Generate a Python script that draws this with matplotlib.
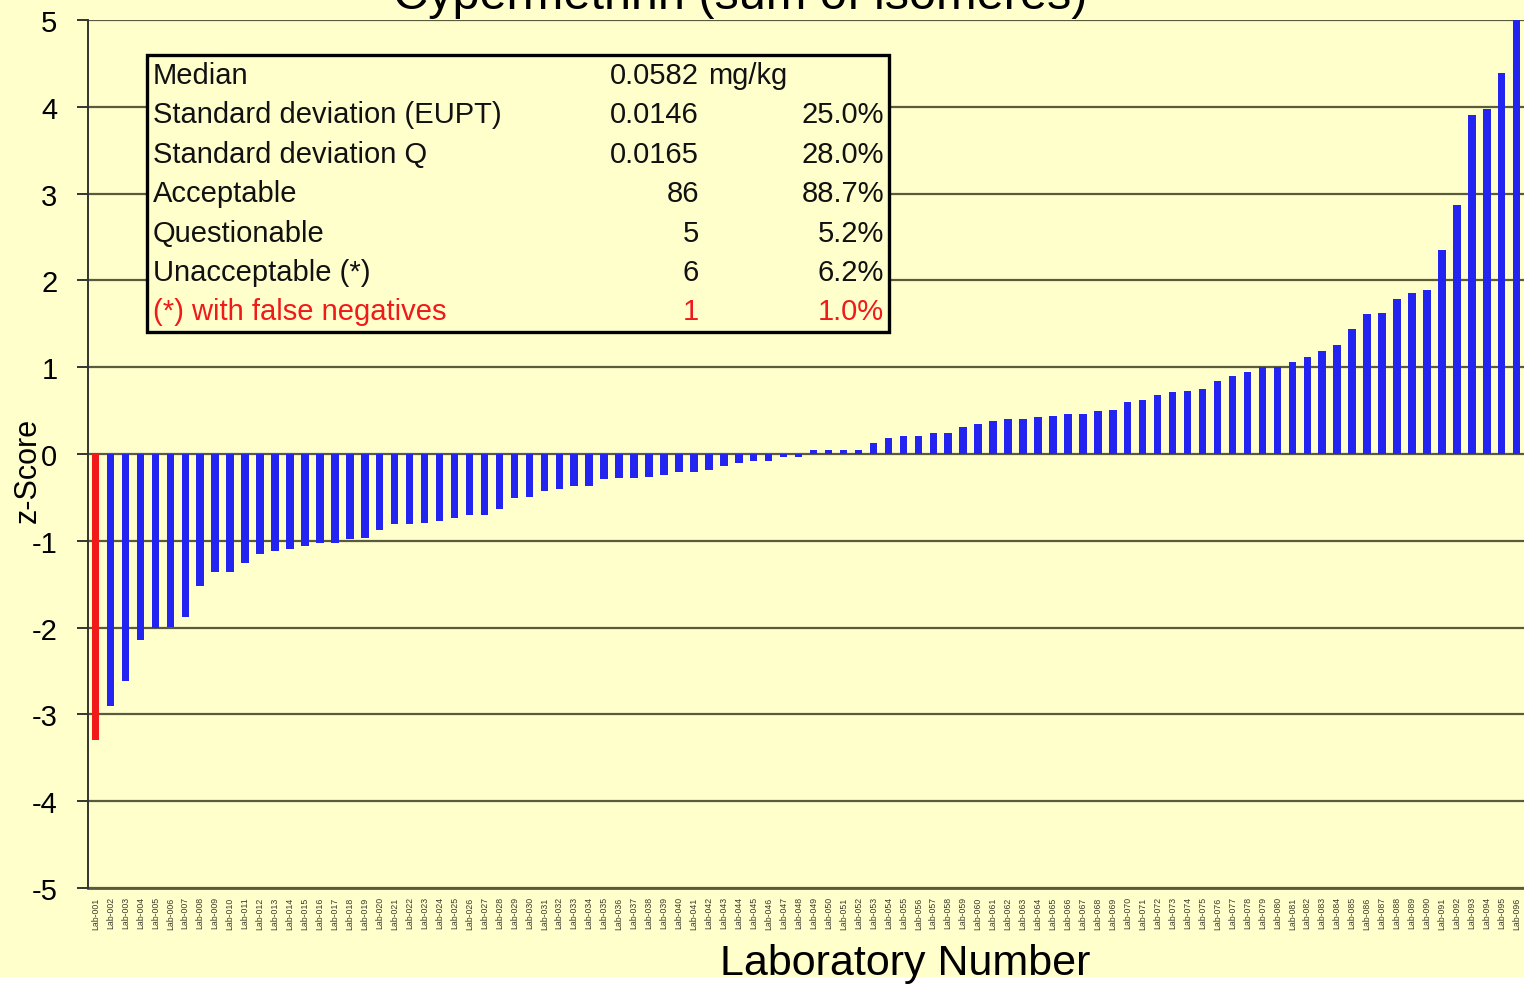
import matplotlib
matplotlib.use("Agg")
import matplotlib.pyplot as plt
import numpy as np
from matplotlib.patches import Rectangle

plt.rcParams['font.family'] = ['Liberation Sans', 'DejaVu Sans']

# z-scores, sorted (last lab lies past the cropped right edge)
z_scores = [
    -3.30, -2.90, -2.61, -2.14, -2.00, -1.99, -1.88, -1.52, -1.36, -1.36,
    -1.25, -1.15, -1.12, -1.10, -1.06, -1.03, -1.03, -0.98, -0.97, -0.87,
    -0.81, -0.81, -0.79, -0.77, -0.74, -0.70, -0.70, -0.63, -0.51, -0.50,
    -0.43, -0.40, -0.37, -0.37, -0.29, -0.28, -0.28, -0.27, -0.24, -0.21,
    -0.21, -0.18, -0.14, -0.10, -0.08, -0.08, -0.04, -0.04, 0.05, 0.05,
    0.05, 0.05, 0.13, 0.19, 0.21, 0.21, 0.24, 0.24, 0.31, 0.34,
    0.38, 0.40, 0.40, 0.43, 0.44, 0.46, 0.46, 0.50, 0.51, 0.60,
    0.62, 0.68, 0.72, 0.73, 0.75, 0.84, 0.90, 0.94, 1.00, 1.00,
    1.06, 1.12, 1.19, 1.26, 1.44, 1.61, 1.63, 1.78, 1.85, 1.89,
    2.35, 2.87, 3.91, 3.97, 4.39, 5.00, 5.00,
]
false_negative = [0]  # bar indices drawn in red

# lab codes are too small to read in the picture
lab_labels = ["Lab-%03d" % (i + 1) for i in range(len(z_scores))]

stat_names = ["Median", "Standard deviation (EUPT)", "Standard deviation Q",
              "Acceptable", "Questionable", "Unacceptable (*)",
              "(*) with false negatives"]
stat_values = ["0.0582", "0.0146", "0.0165", "86", "5", "6", "1"]
stat_pct = ["", "25.0%", "28.0%", "88.7%", "5.2%", "6.2%", "1.0%"]

title = "Cypermethrin (sum of isomeres)"

W, H = 1524, 987
bg = '#ffffcc'
blue = '#2424f0'
red = '#f01a1a'
grid_col = '#5a5a3c'

fig = plt.figure(figsize=(W / 100, H / 100), dpi=100)
fig.patch.set_facecolor('white')
fig.patches.append(Rectangle((0, 1 - 978 / H), 1, 978 / H, transform=fig.transFigure,
                             facecolor=bg, edgecolor='none', zorder=-5))

n = len(z_scores)
slot = 14.96
ax = fig.add_axes([88 / W, 1 - 889 / H, n * slot / W, 868 / H])
ax.set_facecolor(bg)

x = np.arange(n)
colors = [red if i in false_negative else blue for i in range(n)]
ax.bar(x, z_scores, width=0.5, color=colors, zorder=3)

ax.set_xlim(-0.5, n - 0.5)
ax.set_ylim(-5, 5)
ax.set_yticks(np.arange(-5, 6, 1))
ax.set_yticklabels([str(v) for v in range(-5, 6)], fontsize=21)
ax.yaxis.grid(True, color=grid_col, linewidth=1.6, zorder=1)
ax.set_axisbelow(True)
ax.tick_params(axis='y', length=8, width=1.4, pad=14, color='#333333')
ax.set_xticks(x)
ax.set_xticklabels(lab_labels, rotation=90, fontsize=6.3, color='#3a3a2a')
ax.tick_params(axis='x', length=0, pad=6)

for side in ['top', 'right', 'bottom']:
    ax.spines[side].set_visible(False)
ax.spines['left'].set_color('#333333')
ax.spines['left'].set_linewidth(1.4)
ax.axhline(-5, color=grid_col, linewidth=2.0, zorder=2, clip_on=False)

fig.text(28 / W, 1 - 470 / H, "z-Score", rotation=90, ha='center', va='center', fontsize=22)
fig.text(905 / W, 1 - 964 / H, "Laboratory Number", ha='center', va='center', fontsize=31)
fig.text(740 / W, 1 - 9 / H, title, ha='center', va='baseline', fontsize=35)

# statistics box
box_l, box_t, box_r, box_b = 147, 56, 889, 333
fig.patches.append(Rectangle((box_l / W, 1 - box_b / H), (box_r - box_l) / W, (box_b - box_t) / H,
                             transform=fig.transFigure, facecolor=bg, edgecolor='black',
                             linewidth=2.4, zorder=5))
row0, row_step = 76, 39.4
fs = 21
for i in range(len(stat_names)):
    yy = 1 - (row0 + i * row_step) / H
    c = red if i == len(stat_names) - 1 else '#111111'
    fig.text(153 / W, yy, stat_names[i], ha='left', va='center', fontsize=fs, color=c, zorder=6)
    fig.text(699 / W, yy, stat_values[i], ha='right', va='center', fontsize=fs, color=c, zorder=6)
    if stat_pct[i]:
        fig.text(884 / W, yy, stat_pct[i], ha='right', va='center', fontsize=fs, color=c, zorder=6)
fig.text(708 / W, 1 - row0 / H, "mg/kg", ha='left', va='center', fontsize=fs, color='#111111', zorder=6)

fig.savefig("out.png", dpi=100, facecolor=fig.get_facecolor())
